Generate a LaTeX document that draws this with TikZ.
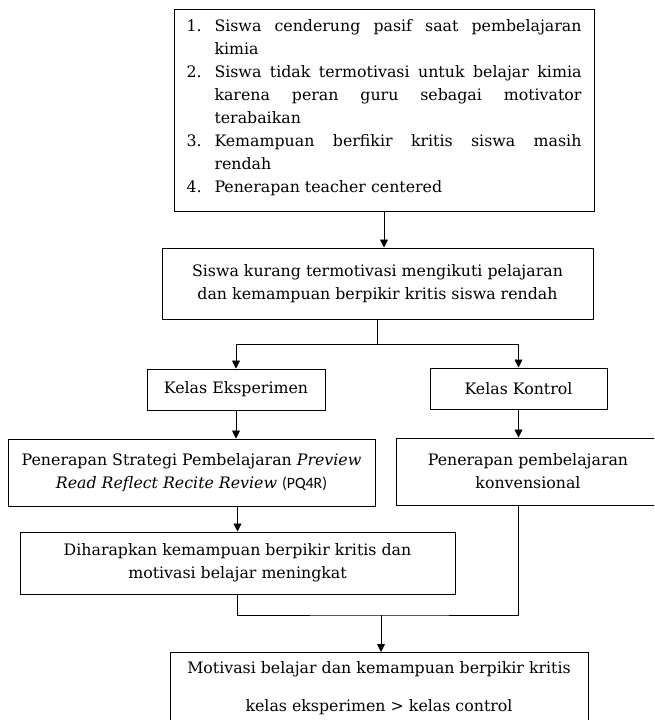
\documentclass[tikz,border=0pt]{standalone}
\usepackage{fontspec}
\setmainfont{DejaVu Serif}
\newfontfamily\pqfont{Carlito}
\usepackage{enumitem}
\usetikzlibrary{arrows.meta,positioning}

\begin{document}
\begin{tikzpicture}[x=1pt, y=-1pt,
  box/.style={draw=black, line width=1pt, align=center, inner sep=0pt, font=\fontsize{15.8}{23}\selectfont},
  link/.style={line width=0.9pt, -{Triangle[length=8pt,width=8pt]}},
  wire/.style={line width=0.9pt}
]
  \useasboundingbox (0,0) rectangle (654,720);
  \clip (0,0) rectangle (654,720);

  %% Problems
  \node[box, text width=395pt, minimum width=420pt, minimum height=202pt, align=justify] (masalah) at (384,110) {%
    \vspace*{-16pt}%
    \begin{enumerate}[label=\arabic*., leftmargin=28pt, labelwidth=20pt, labelsep=8pt, align=left, itemsep=0pt, topsep=0pt, parsep=0pt, partopsep=0pt]
      \item Siswa cenderung pasif saat pembelajaran\linebreak kimia
      \item Siswa tidak termotivasi untuk belajar kimia\linebreak karena peran guru sebagai motivator\linebreak terabaikan
      \item Kemampuan berfikir kritis siswa masih\linebreak rendah
      \item Penerapan teacher centered
    \end{enumerate}};

  %% Core problem
  \node[box, minimum width=431pt, minimum height=71pt] (kurang) at (377.5,283.5) {Siswa kurang termotivasi mengikuti pelajaran\\dan kemampuan berpikir kritis siswa rendah};
  \draw[link] (masalah.south) -- (masalah.south |- kurang.north);

  %% Two classes
  \node[box, minimum width=178pt, minimum height=41pt] (eks) at (236,389.5) {Kelas Eksperimen};
  \node[box, minimum width=177pt, minimum height=41pt] (kon) at (518.5,388.5) {Kelas Kontrol};
  \draw[wire] (kurang.south) -- ++(0,25) coordinate (cabang);
  \draw[link] (cabang) -| (eks.north);
  \draw[link] (cabang) -| (kon.north);

  %% Treatments
  \node[box, minimum width=367pt, minimum height=67pt] (pq) at (191.5,472.5) {Penerapan Strategi Pembelajaran \textit{Preview}\\\textit{Read Reflect Recite Review} {\pqfont(PQ4R)}};
  \node[box, minimum width=264pt, minimum height=67pt] (konv) at (528,471.5) {Penerapan pembelajaran\\konvensional};
  \draw[link] (eks.south) -- (eks.south |- pq.north);
  \draw[link] (kon.south) -- (kon.south |- konv.north);

  %% Expectation
  \node[box, minimum width=435pt, minimum height=62pt] (harap) at (237.5,563) {Diharapkan kemampuan berpikir kritis dan\\motivasi belajar meningkat};
  \draw[link] (harap.north |- pq.south) -- (harap.north);

  %% Result
  \node[box, minimum width=418pt, inner ysep=9pt, text depth=25pt, anchor=north] (hasil) at (379,652) {Motivasi belajar dan kemampuan berpikir kritis\\[15pt]kelas eksperimen > kelas control};
  \coordinate (gabung) at (381,615);
  \draw[wire] (harap.south) |- (gabung) -| (kon.south |- konv.south);
  \draw[link] (gabung) -- (gabung |- hasil.north);
\end{tikzpicture}
\end{document}
